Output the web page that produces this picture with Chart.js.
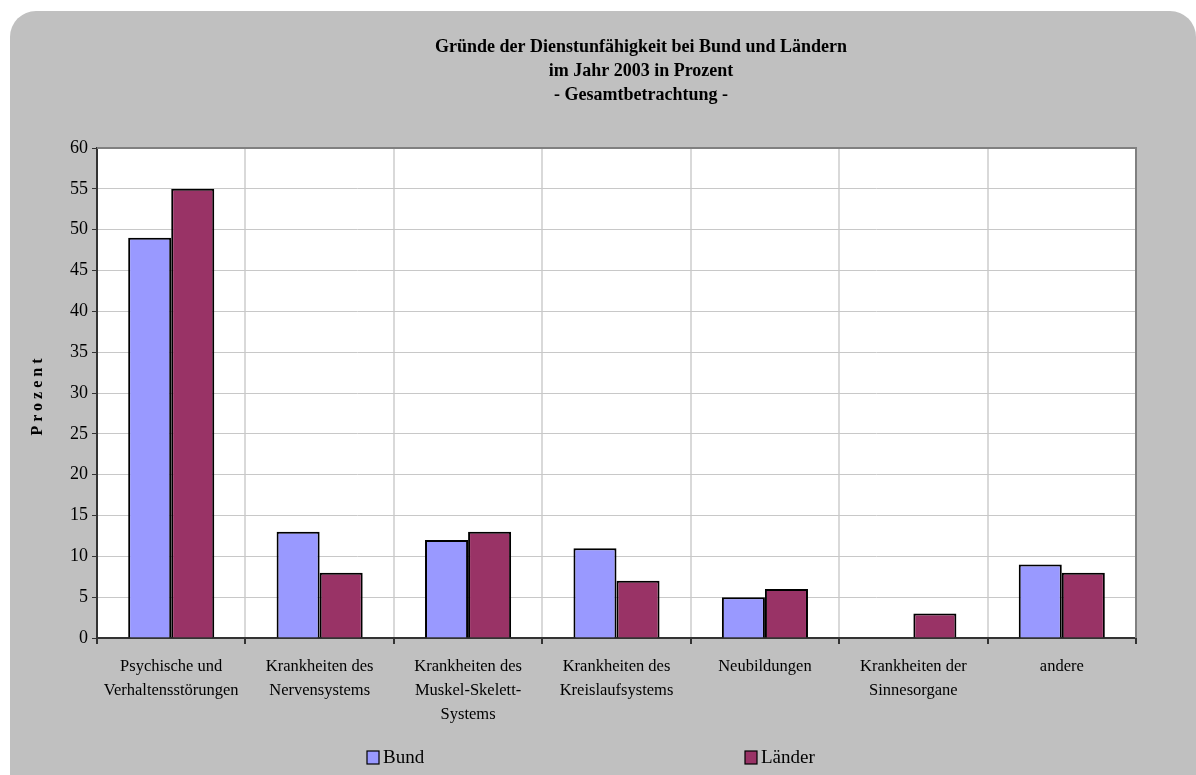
<!DOCTYPE html>
<html><head><meta charset="utf-8">
<script src="https://cdn.jsdelivr.net/npm/chart.js@4/dist/chart.umd.min.js"></script>
<style>html,body{margin:0;padding:0;background:#fff;}#wrap{width:1196px;height:775px;position:relative;}</style>
</head><body><div id="wrap"><canvas id="c" width="1196" height="775"></canvas></div>
<script>
const categories = [
  ["Psychische und", "Verhaltensstörungen"],
  ["Krankheiten des", "Nervensystems"],
  ["Krankheiten des", "Muskel-Skelett-", "Systems"],
  ["Krankheiten des", "Kreislaufsystems"],
  "Neubildungen",
  ["Krankheiten der", "Sinnesorgane"],
  "andere"
];
const bund = [49, 13, 12, 11, 5, 0, 9];
const laender = [55, 8, 13, 7, 6, 3, 8];
const yTicks = [0, 5, 10, 15, 20, 25, 30, 35, 40, 45, 50, 55, 60];
const seriesNames = ["Bund", "Länder"];
const titleLines = ["Gründe der Dienstunfähigkeit bei Bund und Ländern", "im Jahr 2003 in Prozent", "- Gesamtbetrachtung -"];
const yAxisTitle = "Prozent";

const SERIF = "'Liberation Serif', 'Times New Roman', serif";

const decor = {
  id: 'decor',
  beforeDraw(chart) {
    const ctx = chart.ctx, a = chart.chartArea;
    ctx.save();
    ctx.fillStyle = '#ffffff';
    ctx.fillRect(0, 0, chart.width, chart.height);
    ctx.fillStyle = '#c0c0c0';
    ctx.beginPath();
    ctx.roundRect(10, 11, 1186, 900, 26);
    ctx.fill();
    ctx.fillStyle = '#ffffff';
    ctx.fillRect(a.left, a.top, a.right - a.left, a.bottom - a.top);
    ctx.restore();
  },
  afterDraw(chart) {
    const ctx = chart.ctx, a = chart.chartArea;
    ctx.save();
    ctx.strokeStyle = '#808080';
    ctx.lineWidth = 2;
    ctx.beginPath();
    ctx.moveTo(a.left, a.top); ctx.lineTo(a.right, a.top); ctx.lineTo(a.right, a.bottom);
    ctx.stroke();
    ctx.fillStyle = '#000';
    ctx.font = "bold 18px " + SERIF;
    ctx.textAlign = 'center';
    ctx.textBaseline = 'middle';
    titleLines.forEach((t, i) => ctx.fillText(t, 641, 47 + i * 24));
    ctx.save();
    ctx.translate(38, 397);
    ctx.rotate(-Math.PI / 2);
    ctx.font = "bold 16px " + SERIF;
    ctx.letterSpacing = '4px';
    ctx.textAlign = 'center';
    ctx.fillText(yAxisTitle, 2, 0);
    ctx.restore();
    const legendX = [367, 745];
    ctx.font = "19px " + SERIF;
    ctx.textAlign = 'left';
    ctx.textBaseline = 'middle';
    chart.data.datasets.forEach((ds, i) => {
      const x = legendX[i], y = 751;
      ctx.fillStyle = ds.backgroundColor;
      ctx.fillRect(x, y, 12, 13);
      ctx.strokeStyle = '#000';
      ctx.lineWidth = 1.2;
      ctx.strokeRect(x, y, 12, 13);
      ctx.fillStyle = '#000';
      ctx.fillText(ds.label, x + 16, y + 7);
    });
    ctx.restore();
  }
};

new Chart(document.getElementById('c'), {
  type: 'bar',
  data: {
    labels: categories,
    datasets: [
      { label: seriesNames[0], data: bund, backgroundColor: '#9999ff', borderColor: '#000', borderWidth: 2 },
      { label: seriesNames[1], data: laender, backgroundColor: '#993366', borderColor: '#000', borderWidth: 2 }
    ]
  },
  options: {
    responsive: false,
    animation: false,
    devicePixelRatio: 1,
    layout: { padding: { left: 0, right: 60, top: 148, bottom: 0 } },
    datasets: { bar: { categoryPercentage: 0.58, barPercentage: 1.0 } },
    plugins: { legend: { display: false }, title: { display: false }, tooltip: { enabled: false } },
    scales: {
      x: {
        grid: { offset: true, color: '#d9d9d9', lineWidth: 2, tickColor: '#333', tickLength: 6, drawTicks: true },
        border: { color: '#333', width: 2 },
        ticks: { color: '#000', font: { family: SERIF, size: 16.5, lineHeight: '24px' }, padding: 11, maxRotation: 0, autoSkip: false },
        afterFit(s) { s.height = 137; }
      },
      y: {
        min: 0, max: 60,
        afterBuildTicks(s) { s.ticks = yTicks.map(v => ({ value: v })); },
        grid: { color: '#c8c8c8', lineWidth: 1, tickColor: '#333', tickLength: 5 },
        border: { color: '#333', width: 2 },
        ticks: { color: '#000', font: { family: SERIF, size: 18 }, padding: 4 },
        afterFit(s) { s.width = 97; }
      }
    }
  },
  plugins: [decor]
});
</script>
</body></html>
